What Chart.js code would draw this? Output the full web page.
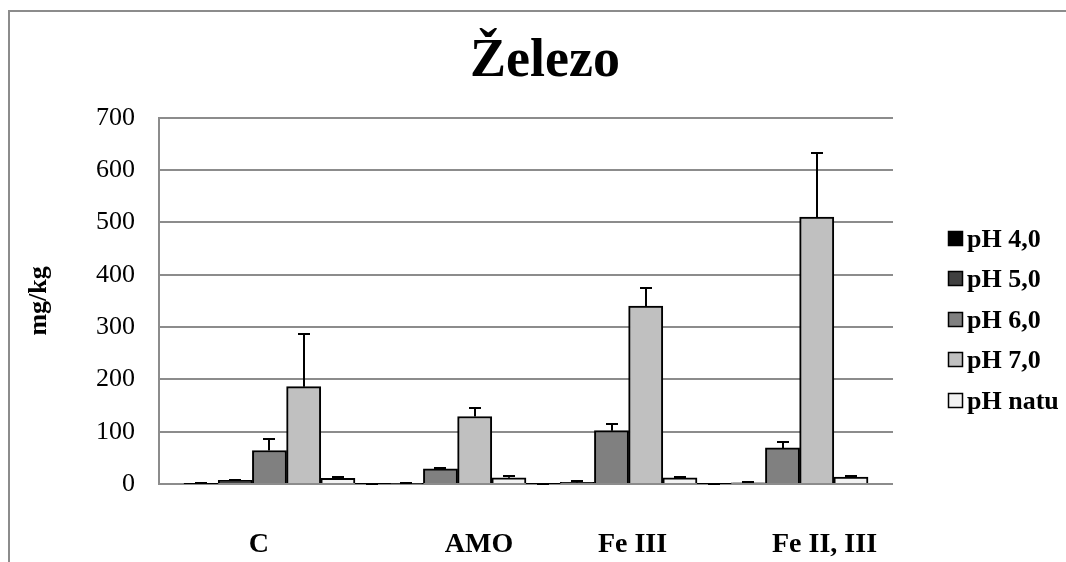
<!DOCTYPE html>
<html>
<head>
<meta charset="utf-8">
<script src="https://cdn.jsdelivr.net/npm/chart.js@4.4.0/dist/chart.umd.min.js"></script>
<style>
  html, body { margin: 0; padding: 0; background: #ffffff; }
  #wrap { width: 1066px; height: 562px; position: relative; }
</style>
</head>
<body>
<div id="wrap"><canvas id="c" width="1066" height="562"></canvas></div>
<script>
// Treatments on the category axis
const categories = ['C', 'AMO', 'Fe III', 'Fe II, III'];
// Series names (pH of the extraction)
const seriesNames = ['pH 4,0', 'pH 5,0', 'pH 6,0', 'pH 7,0', 'pH natu'];

// Iron content, mg/kg
const ph40 = [0.3, 0.3, 0.3, 0.3];
const ph50 = [7, 0.5, 3, 2];
const ph60 = [64, 29, 102, 69];
const ph70 = [186, 129, 340, 510];
const phNatu = [11, 12, 12, 13];

// Standard deviations (drawn as upward error bars)
const err40 = [0.7, 0.5, 0.5, 0.5];
const err50 = [1.5, 0.5, 2, 2];
const err60 = [22, 2, 13, 12];
const err70 = [100, 16, 35, 123];
const errNatu = [3, 2.5, 2, 3];

const yTicks = [0, 100, 200, 300, 400, 500, 600, 700];

// Category labels sit off-centre: spaces added before (+) or after (-) each label
const labelPad = [-3, 11, 6, 12];

const seriesValues = [ph40, ph50, ph60, ph70, phNatu];
const seriesErrors = [err40, err50, err60, err70, errNatu];
const fills = ['#000000', '#404040', '#808080', '#c0c0c0', '#f2f2f2'];

const SERIF = "'Liberation Serif', 'Times New Roman', serif";
const GRID = '#8c8c8c';

function paddedLabel(i) {
  const n = labelPad[i];
  const sp = ' '.repeat(Math.abs(n));
  return n >= 0 ? sp + categories[i] : categories[i] + sp;
}

// Grey frame around the whole chart
const framePlugin = {
  id: 'frame',
  beforeDraw(chart) {
    const ctx = chart.ctx;
    ctx.save();
    ctx.strokeStyle = GRID;
    ctx.lineWidth = 2;
    ctx.beginPath();
    ctx.moveTo(9, chart.height + 5);
    ctx.lineTo(9, 11);
    ctx.lineTo(chart.width + 5, 11);
    ctx.stroke();
    ctx.restore();
  }
};

// Upward error bars with a flat cap
const errorBarPlugin = {
  id: 'errorBars',
  afterDatasetsDraw(chart) {
    const ctx = chart.ctx;
    const yScale = chart.scales.y;
    ctx.save();
    ctx.strokeStyle = '#000000';
    ctx.lineWidth = 2;
    chart.data.datasets.forEach((ds, i) => {
      const meta = chart.getDatasetMeta(i);
      meta.data.forEach((bar, j) => {
        const v = ds.data[j].y;
        const e = ds.errors[j];
        const yTop = Math.round(yScale.getPixelForValue(v + e));
        const x = Math.round(bar.x);
        ctx.beginPath();
        ctx.moveTo(x, bar.y);
        ctx.lineTo(x, yTop);
        ctx.moveTo(x - 6, yTop);
        ctx.lineTo(x + 6, yTop);
        ctx.stroke();
      });
    });
    ctx.restore();
  }
};

// Legend column to the right of the plot
const legendPlugin = {
  id: 'sideLegend',
  afterDraw(chart) {
    const ctx = chart.ctx;
    const area = chart.chartArea;
    const x0 = area.right + 55;
    const y0 = area.top + 120;
    const step = 40.5;
    ctx.save();
    ctx.font = 'bold 26px ' + SERIF;
    ctx.textBaseline = 'middle';
    ctx.textAlign = 'left';
    chart.data.datasets.forEach((ds, i) => {
      const cy = Math.round(y0 + i * step);
      ctx.fillStyle = ds.backgroundColor;
      ctx.fillRect(x0, cy - 7, 15, 15);
      ctx.strokeStyle = '#000000';
      ctx.lineWidth = 1.5;
      ctx.strokeRect(x0 + 0.5, cy - 6.5, 14, 14);
      ctx.fillStyle = '#000000';
      ctx.fillText(ds.label, x0 + 19, cy + 2);
    });
    ctx.restore();
  }
};

const datasets = seriesNames.map((name, i) => ({
  label: name,
  data: seriesValues[i].map((v, j) => ({ x: j, y: v })),
  errors: seriesErrors[i],
  backgroundColor: fills[i],
  borderColor: '#000000',
  borderWidth: 2,
  barPercentage: 1.0,
  categoryPercentage: 1.0,
  xAxisID: 'x',
  yAxisID: 'y'
}));

new Chart(document.getElementById('c'), {
  type: 'bar',
  data: { datasets },
  options: {
    responsive: false,
    devicePixelRatio: 1,
    animation: false,
    layout: { padding: { left: 24, right: 0, top: 0, bottom: 0 } },
    plugins: {
      legend: { display: false },
      tooltip: { enabled: false },
      title: {
        display: true,
        text: 'Železo',
        color: '#000000',
        font: { family: SERIF, size: 54, weight: 'bold' },
        padding: { top: 30, bottom: 23 }
      }
    },
    scales: {
      x: {
        type: 'linear',
        position: 'bottom',
        offset: false,
        min: -0.646,
        max: 3.646,
        grid: { display: false, drawTicks: false, offset: false },
        border: { display: false },
        afterBuildTicks: (s) => { s.ticks = categories.map((_, i) => ({ value: i })); },
        ticks: {
          color: '#000000',
          font: { family: SERIF, size: 28, weight: 'bold' },
          padding: 44,
          maxRotation: 0,
          autoSkip: false,
          callback: (v) => paddedLabel(v)
        },
        afterFit: (s) => { s.height = 78; }
      },
      y: {
        type: 'linear',
        position: 'left',
        min: 0,
        max: 700,
        afterBuildTicks: (s) => { s.ticks = yTicks.map(v => ({ value: v })); },
        grid: { color: GRID, lineWidth: 2, drawTicks: false },
        border: { display: true, color: GRID, width: 2 },
        ticks: {
          color: '#000000',
          font: { family: SERIF, size: 26 },
          padding: 24
        },
        title: {
          display: true,
          text: 'mg/kg',
          color: '#000000',
          font: { family: SERIF, size: 26, weight: 'bold' },
          padding: { top: 0, bottom: 0 }
        },
        afterFit: (s) => { s.width = 135; }
      },
      side: {
        type: 'linear',
        position: 'right',
        display: true,
        grid: { display: false, drawTicks: false },
        border: { display: false },
        ticks: { display: false },
        afterFit: (s) => { s.width = 173; }
      }
    }
  },
  plugins: [framePlugin, errorBarPlugin, legendPlugin]
});
</script>
</body>
</html>
